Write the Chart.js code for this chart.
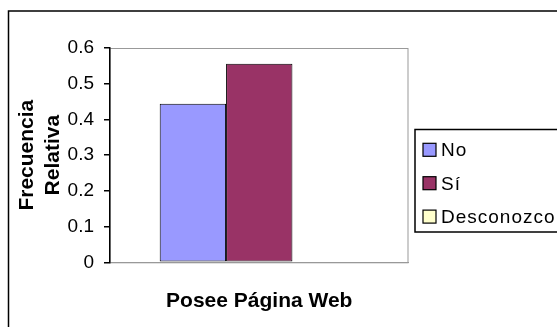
<!DOCTYPE html>
<html>
<head>
<meta charset="utf-8">
<script src="https://cdn.jsdelivr.net/npm/chart.js@4.4.1/dist/chart.umd.min.js"></script>
<style>
    html, body { margin: 0; padding: 0; background: #ffffff; overflow: hidden; }
    #webChart { display: block; }
</style>
</head>
<body>
<canvas id="webChart" width="600" height="346"></canvas>
<script>
'use strict';

// ============================================================================
// DATA
// ============================================================================

const categories = ['Posee Página Web'];
const seriesNames = ['No', 'Sí', 'Desconozco'];
const noValues = [0.444];
const siValues = [0.556];
const desconozcoValues = [0];
const seriesColors = ['#9999FF', '#993366', '#FFFFCC'];
const yTickValues = [0, 0.1, 0.2, 0.3, 0.4, 0.5, 0.6];

const FONT_FAMILY = '"Liberation Sans", Arial, Helvetica, sans-serif';

/**
 * Frames: outer chart border and grey plot-area box.
 */
const framePlugin = {
    id: 'frames',
    beforeDraw(chart) {
        const { ctx, chartArea } = chart;
        ctx.save();
        ctx.strokeStyle = '#999999';
        ctx.lineWidth = 1;
        ctx.strokeRect(chartArea.left, chartArea.top + 0.5,
            chartArea.right - chartArea.left - 0.5, chartArea.bottom - chartArea.top);
        ctx.restore();
    },
    afterDraw(chart) {
        const { ctx } = chart;
        ctx.save();
        ctx.strokeStyle = '#000000';
        ctx.lineWidth = 1.5;
        // outer border (runs off the right and bottom edges)
        ctx.strokeRect(8.5, 11, chart.width + 20, chart.height + 20);
        ctx.restore();
    }
};

/**
 * Excel-style boxed legend to the right of the plot, built from the datasets.
 * (The built-in legend clips its own box, which cut off "Desconozco".)
 */
const boxLegendPlugin = {
    id: 'boxLegend',
    afterDraw(chart) {
        const { ctx } = chart;
        const boxLeft = 415;
        const boxTop = 129.5;
        const boxBottom = 232;
        const swatchX = 423;
        const firstSwatchY = 143.3;
        const rowStep = 33.4;
        const swatch = 13;

        ctx.save();
        ctx.strokeStyle = '#000000';
        ctx.lineWidth = 1.5;
        ctx.strokeRect(boxLeft, boxTop, chart.width + 20 - boxLeft, boxBottom - boxTop);

        ctx.font = '19px ' + FONT_FAMILY;
        ctx.letterSpacing = '1px';
        ctx.textAlign = 'left';
        ctx.textBaseline = 'alphabetic';
        chart.data.datasets.forEach((dataset, index) => {
            const y = firstSwatchY + index * rowStep;
            ctx.fillStyle = dataset.backgroundColor;
            ctx.fillRect(swatchX, y, swatch, swatch);
            ctx.lineWidth = 1.2;
            ctx.strokeStyle = '#000000';
            ctx.strokeRect(swatchX, y, swatch, swatch);
            ctx.fillStyle = '#000000';
            ctx.fillText(dataset.label, swatchX + swatch + 5, y + swatch);
        });
        ctx.restore();
    }
};

function makeDataset(label, values, color) {
    return {
        label,
        data: values,
        backgroundColor: color,
        borderColor: '#000000',
        borderWidth: 1,
        borderSkipped: false,
        categoryPercentage: 0.667,
        barPercentage: 1.0
    };
}

function renderChart() {
    const canvas = document.getElementById('webChart');
    const context = canvas.getContext('2d');
    Chart.defaults.font.family = FONT_FAMILY;
    Chart.defaults.color = '#000000';

    new Chart(context, {
        type: 'bar',
        data: {
            labels: categories,
            datasets: [
                makeDataset(seriesNames[0], noValues, seriesColors[0]),
                makeDataset(seriesNames[1], siValues, seriesColors[1]),
                makeDataset(seriesNames[2], desconozcoValues, seriesColors[2])
            ]
        },
        options: {
            responsive: false,
            animation: false,
            devicePixelRatio: 1,
            layout: {
                padding: { left: 8, top: 48, right: 191.5, bottom: 26.4 }
            },
            plugins: {
                tooltip: { enabled: false },
                legend: { display: false }
            },
            scales: {
                x: {
                    ticks: { display: false },
                    grid: { display: false, drawTicks: false },
                    border: { display: true, color: '#999999', width: 1 },
                    title: {
                        display: true,
                        text: 'Posee Página Web',
                        color: '#000000',
                        font: { size: 21, weight: 'bold' },
                        padding: { top: 26, bottom: 6.1 }
                    }
                },
                y: {
                    min: 0,
                    max: 0.6,
                    afterBuildTicks(scale) {
                        scale.ticks = yTickValues.map(value => ({ value }));
                    },
                    afterFit(scale) {
                        scale.width = 102;
                    },
                    ticks: {
                        color: '#000000',
                        font: { size: 19 },
                        padding: 10,
                        callback: value => String(value)
                    },
                    grid: {
                        display: true,
                        drawOnChartArea: false,
                        drawTicks: true,
                        tickLength: 6,
                        color: '#000000',
                        lineWidth: 1.5
                    },
                    border: { display: true, color: '#000000', width: 1.5 },
                    title: {
                        display: true,
                        text: ['Frecuencia', 'Relativa'],
                        color: '#000000',
                        font: { size: 21, weight: 'bold' },
                        padding: { top: 7, bottom: 4 }
                    }
                }
            }
        },
        plugins: [framePlugin, boxLegendPlugin]
    });
}

renderChart();
</script>
</body>
</html>
